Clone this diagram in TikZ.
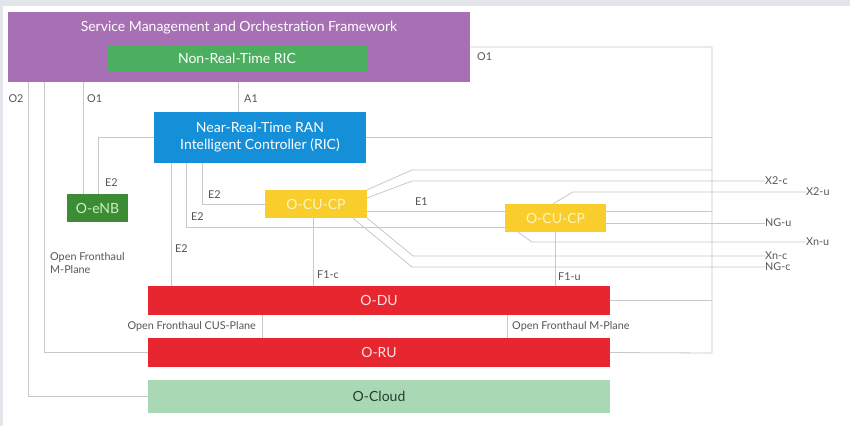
\documentclass[tikz,border=0pt]{standalone}
\usepackage{fontspec}
\setmainfont{Lato}
\usetikzlibrary{calc}
\definecolor{smoC}{HTML}{A770B5}
\definecolor{nrtC}{HTML}{4CAE5F}
\definecolor{ricC}{HTML}{1590D8}
\definecolor{enbC}{HTML}{3C8B35}
\definecolor{enbT}{HTML}{C9F2C0}
\definecolor{cuC}{HTML}{F8CD2C}
\definecolor{cuT}{HTML}{FFF4C0}
\definecolor{redC}{HTML}{E8262F}
\definecolor{redT}{HTML}{FFE0E0}
\definecolor{cloudC}{HTML}{A9D9B4}
\definecolor{cloudT}{HTML}{2E3A30}
\definecolor{lineC}{HTML}{C8C8C8}
\definecolor{lblC}{HTML}{555555}
\definecolor{frameC}{HTML}{E3E5EB}
\tikzset{
  box/.style={draw=none, inner sep=0pt, anchor=north west, font=\fontsize{14}{17}\selectfont},
  conn/.style={draw=lineC, line width=0.8pt},
  lbl/.style={text=lblC, inner sep=0pt, font=\fontsize{10.8}{13}\selectfont},
}
\begin{document}
\begin{tikzpicture}[x=1pt,y=-1pt]
\fill[frameC] (0,0) rectangle (850,426);
\fill[white] (3,6) rectangle (850,426);
\useasboundingbox (0,0) rectangle (850,426);

% boxes
\node[box, fill=smoC, minimum width=462pt, minimum height=70pt] (smo) at (8,12) {};
\node[text=white, inner sep=0pt, font=\fontsize{14}{17}\selectfont] (smot) at (239,28) {Service Management and Orchestration Framework};
\node[box, fill=nrtC, minimum width=260pt, minimum height=27pt, text=white, anchor=center] (nrt) at (237,58.5) {Non-Real-Time RIC};
\node[box, fill=ricC, minimum width=212pt, minimum height=51pt, text=white, anchor=center, align=center] (ric) at (260,137.5) {Near-Real-Time RAN\\Intelligent Controller (RIC)};
\node[box, fill=enbC, minimum width=61pt, minimum height=28pt, text=enbT, anchor=center] (oenb) at (97.5,208) {O-eNB};
\node[box, fill=cuC, minimum width=102pt, minimum height=28pt, text=cuT, anchor=center] (ocu1) at (316,204) {O-CU-CP};
\node[box, fill=cuC, minimum width=101pt, minimum height=28pt, text=cuT, anchor=center] (ocu2) at (555.5,218) {O-CU-CP};
\node[box, fill=redC, minimum width=462pt, minimum height=29pt, text=redT, anchor=center] (odu) at (379,300.5) {O-DU};
\node[box, fill=redC, minimum width=462pt, minimum height=29pt, text=redT, anchor=center] (oru) at (379,352.5) {O-RU};
\node[box, fill=cloudC, minimum width=462pt, minimum height=33pt, text=cloudT, anchor=center] (ocloud) at (379,396.5) {O-Cloud};

% end labels
\node[lbl, anchor=west] (x2c) at (765,181) {X2-c};
\node[lbl, anchor=west] (x2u) at (806,192) {X2-u};
\node[lbl, anchor=west] (ngu) at (765,223) {NG-u};
\node[lbl, anchor=west] (xnu) at (806,242) {Xn-u};
\node[lbl, anchor=west] (xnc) at (765,256) {Xn-c};
\node[lbl, anchor=west] (ngc) at (765,267) {NG-c};

% O1 bus
\coordinate (o1a) at (712,47);
\coordinate (o1b) at (712,353);
\draw[conn] (smo.east |- o1a) -- (o1a) -- (o1b) -- (oru.east);
\draw[conn] (ric.east) -- (712,0 |- ric.east);
\draw[conn] (ocu1.north east) -- (412,170) -- (712,170);
\draw[conn] (ocu2.east |- 0,211) -- (712,211);
\draw[conn] (odu.east) -- (712,0 |- odu.east);

% left verticals
\draw[conn] (28,0 |- smo.south) |- (ocloud.west);
\draw[conn] (44,0 |- smo.south) |- (oru.west);
\draw[conn] (83,0 |- smo.south) -- (83,0 |- oenb.north);
\draw[conn] (ric.west) -| (98,0 |- oenb.north);
\draw[conn] (238,0 |- smo.south) -- (238,0 |- ric.north);

% E2 from RIC
\draw[conn] (171,0 |- ric.south) -- (171,0 |- odu.north);
\draw[conn] (186,0 |- ric.south) |- (ocu2.west |- 0,227);
\draw[conn] (202,0 |- ric.south) |- (ocu1.west);

% E1, F1
\draw[conn] (ocu1.east |- 0,211) -- (ocu2.west |- 0,211);
\draw[conn] (313,0 |- ocu1.south) -- (313,0 |- odu.north);
\draw[conn] (555,0 |- ocu2.south) -- (555,0 |- odu.north);

% X2 / Xn / NG
\draw[conn] (367,198) -- (412,181) -- (x2c.west);
\draw[conn] (553,0 |- ocu2.north) -- (573,192) -- (x2u.west);
\draw[conn] (ocu2.east |- 0,223) -- (ngu.west);
\draw[conn] (518,0 |- ocu2.south) -- (532,242) -- (xnu.west);
\draw[conn] (ocu1.south east) -- (413,256) -- (xnc.west);
\draw[conn] (353,0 |- ocu1.south) -- (412,267) -- (ngc.west);

% fronthaul
\draw[conn] (262,0 |- odu.south) -- (262,0 |- oru.north);
\draw[conn] (507,0 |- odu.south) -- (507,0 |- oru.north);

% interface labels
\node[lbl, anchor=west] (lo1r) at (477,57) {O1};
\node[lbl] (lo2) at (16,99) {O2};
\node[lbl, anchor=west] (lo1) at (87,99) {O1};
\node[lbl, anchor=west] (la1) at (244,99) {A1};
\node[lbl, anchor=west] (le2a) at (105,183) {E2};
\node[lbl, anchor=west] (le2b) at (208,195) {E2};
\node[lbl, anchor=west] (le2c) at (191,217) {E2};
\node[lbl, anchor=west] (le2d) at (175,249) {E2};
\node[lbl, anchor=west] (le1) at (415,202) {E1};
\node[lbl, anchor=west] (lf1c) at (317,275) {F1-c};
\node[lbl, anchor=west] (lf1u) at (558,277) {F1-u};
\node[lbl, anchor=north west, align=left] (lmp) at (50,252) {Open Fronthaul\\M-Plane};
\node[lbl, anchor=east] (lcus) at (256,326) {Open Fronthaul CUS-Plane};
\node[lbl, anchor=west] (lmpr) at (512,326) {Open Fronthaul M-Plane};
\end{tikzpicture}
\end{document}
